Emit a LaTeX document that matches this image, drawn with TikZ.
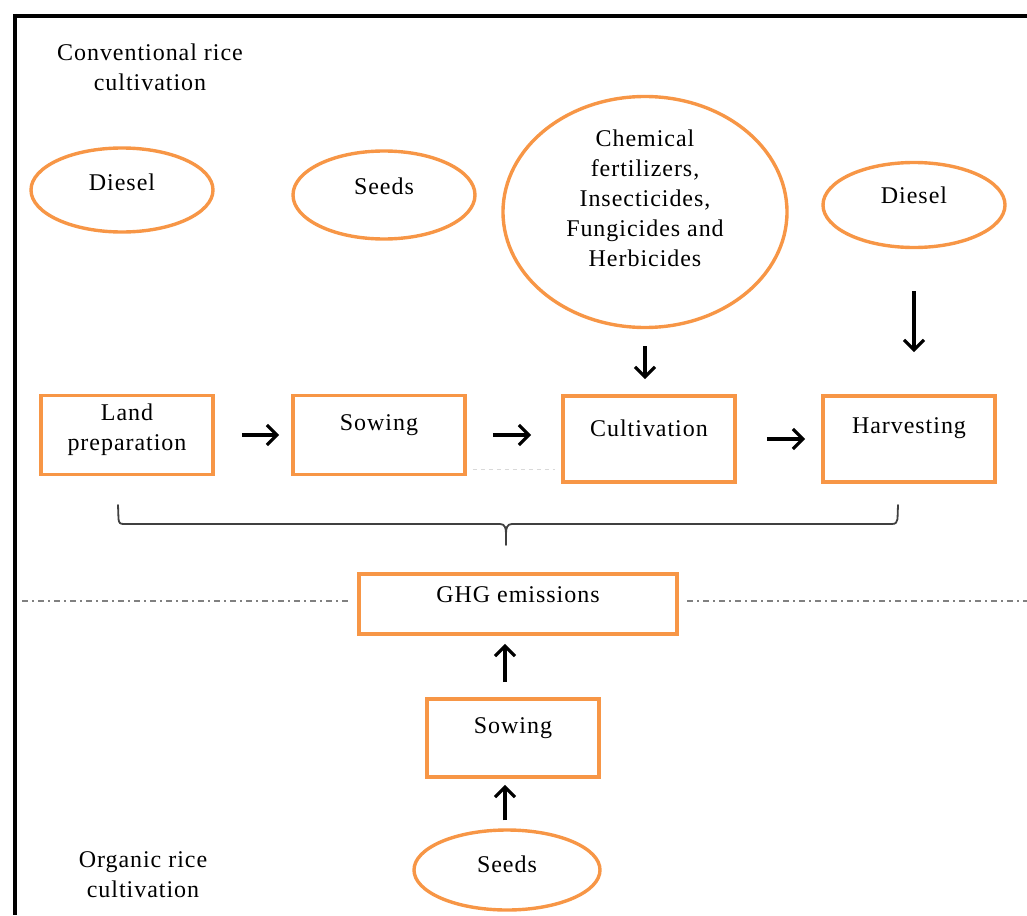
\documentclass[tikz,border=0pt]{standalone}
\usepackage{fontspec}
\setmainfont{Liberation Serif}[LetterSpace=4]
\usetikzlibrary{arrows.meta,calc,shapes.geometric}
\definecolor{org}{HTML}{F79646}
\definecolor{brc}{HTML}{404040}
\begin{document}
\begin{tikzpicture}[x=1pt,y=-1pt,
  box/.style={draw=org,line width=3.6pt,rectangle,inner sep=0pt},
  ell/.style={draw=org,line width=3.4pt,ellipse,inner sep=0pt},
  txt/.style={font=\fontsize{24}{30}\selectfont,align=center,inner sep=0pt},
  arr/.style={line width=3.4pt,-{Straight Barb[length=10pt,width=20pt,line width=3.2pt]}},
  frame/.style={line width=4.5pt,black},
  sep/.style={gray,line width=1.6pt,dash pattern=on 6pt off 4pt on 2pt off 4pt}]
\useasboundingbox (0,0) rectangle (1027,915);
% frame
\draw[frame] (15,16) -- (1027,16);
\draw[frame] (15,14) -- (15,915);

% section labels
\node[txt] (conv) at (150,67) {Conventional rice\\cultivation};
\node[txt] (orgl) at (143,875) {Organic rice\\cultivation};

% inputs
\node[ell,minimum width=182,minimum height=84] (dies1) at (122,190) {};
\node[txt] (dies1t) at (122,182) {Diesel};
\node[ell,minimum width=182,minimum height=88] (seed1) at (384,195) {};
\node[txt] (seed1t) at (384,186) {Seeds};
\node[ell,minimum width=284,minimum height=231] (chem) at (645,212) {};
\node[txt] (chemt) at (645,198) {Chemical\\fertilizers,\\Insecticides,\\Fungicides and\\Herbicides};
\node[ell,minimum width=182,minimum height=85] (dies2) at (914,205) {};
\node[txt] (dies2t) at (914,195) {Diesel};

% process boxes
\node[box,minimum width=172,minimum height=79] (land) at (127,435) {};
\node[txt] (landt) at (127,430) {Land\\preparation};
\node[box,minimum width=172,minimum height=79] (sow) at (379,435) {};
\node[txt] (sowt) at (379,425) {Sowing};
\node[box,minimum width=172,minimum height=86] (cult) at (649,439) {};
\node[txt] (cultt) at (649,428) {Cultivation};
\node[box,minimum width=172,minimum height=86] (harv) at (909,439) {};
\node[txt] (harvt) at (909,428) {Harvesting};

\node[box,minimum width=318,minimum height=60] (ghg) at (518,604) {};
\node[txt] (ghgt) at (518,595) {GHG emissions};
\node[box,minimum width=172,minimum height=78] (sow2) at (513,738) {};
\node[txt] (sow2t) at (513,728) {Sowing};
\node[ell,minimum width=186,minimum height=80] (seed2) at (507,870) {};
\node[txt] (seed2t) at (507,864) {Seeds};

% arrows
\draw[arr,shorten <=27pt,shorten >=12pt] (land.east) -- (land.east -| sow.west);
\draw[arr,shorten <=26pt,shorten >=30pt] (sow.east) -- (sow.east -| cult.west);
\draw[arr,shorten <=30pt,shorten >=16pt] (cult.east) -- (cult.east -| harv.west);
\draw[arr,shorten <=17pt,shorten >=15pt] (chem.south) -- (chem.south |- cult.north);
\draw[arr,shorten <=42pt,shorten >=42pt] (dies2.south) -- (dies2.south |- harv.north);
\draw[arr,shorten <=15pt,shorten >=8pt] ([xshift=-8pt]sow2.north) -- ([xshift=-8pt]sow2.north |- ghg.south);
\draw[arr,shorten <=8pt,shorten >=6pt] ([xshift=-2pt]seed2.north) -- ([xshift=-2pt]seed2.north |- sow2.south);

% faint guide line
\coordinate (fl) at ($(sow.south east)+(6,-7)$);
\draw[gray!30,line width=1pt,dash pattern=on 4pt off 4pt] (fl) -- ++(82,0);

% brace
\draw[brc,line width=1.8pt,line cap=round]
  (118,505) -- (118.5,519) .. controls (119,523) and (120,524) .. (124,524)
  -- (500,524) .. controls (505,524) and (506,528) .. (506,534) -- (506,545);
\draw[brc,line width=1.8pt,line cap=round]
  (512,524) .. controls (507,524) and (506,528) .. (506,534);
\draw[brc,line width=1.8pt,line cap=round]
  (512,524) -- (892,524) .. controls (896,524) and (897,522) .. (897.5,519) -- (898,505);

% separator
\draw[sep] (22,601) -- (349,601);
\draw[sep] (687,601) -- (1027,601);
\end{tikzpicture}
\end{document}
